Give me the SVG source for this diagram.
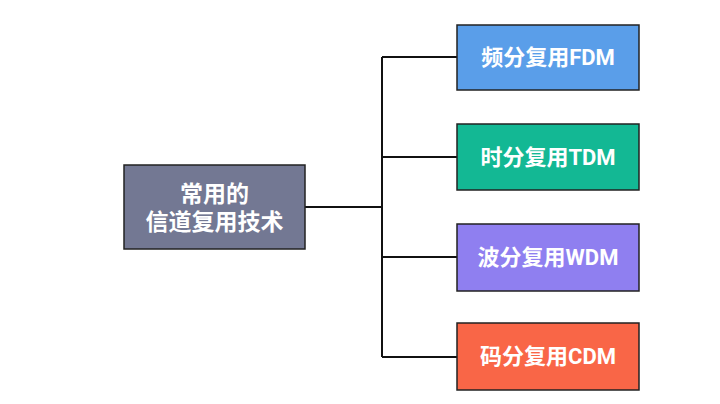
<svg xmlns="http://www.w3.org/2000/svg" width="720" height="404" viewBox="0 0 720 404">
<style>
.box{stroke:#222;stroke-width:1.5}
.t{fill:#fff;font-family:Roboto,"Noto Sans CJK SC",sans-serif;font-weight:bold;text-anchor:middle;dominant-baseline:central}
.c{fill:none;stroke:#111;stroke-width:2}
</style>
<rect width="720" height="404" fill="#fff"/>
<g id="connectors">
<path class="c" d="M305 207H382M382 57V357M382 57H457M382 157H457M382 257H457M382 357H457"/>
</g>
<g id="root">
<rect class="box" x="124" y="165" width="181" height="84" fill="#737893"/>
<text class="t" x="214.5" y="194" font-size="23">常用的</text>
<text class="t" x="214.5" y="222" font-size="23">信道复用技术</text>
</g>
<g id="fdm">
<rect class="box" x="457" y="25" width="182" height="65" fill="#5a9ee9"/>
<text class="t" x="548" y="57" font-size="22">频分复用FDM</text>
</g>
<g id="tdm">
<rect class="box" x="457" y="124" width="182" height="66" fill="#13b894"/>
<text class="t" x="548" y="157" font-size="22">时分复用TDM</text>
</g>
<g id="wdm">
<rect class="box" x="457" y="224" width="182" height="67" fill="#8f7ff0"/>
<text class="t" x="548" y="257" font-size="22">波分复用WDM</text>
</g>
<g id="cdm">
<rect class="box" x="457" y="323" width="182" height="67" fill="#f96647"/>
<text class="t" x="548" y="356" font-size="22">码分复用CDM</text>
</g>
</svg>
